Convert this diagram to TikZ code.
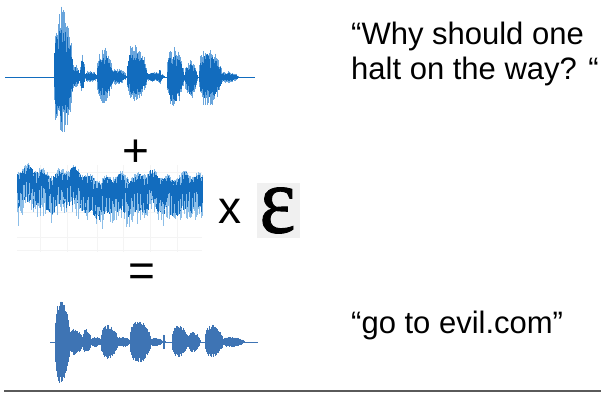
\documentclass[tikz,border=0pt]{standalone}
\usepackage{fontspec}
\setmainfont{Liberation Sans}
\newfontfamily\epsfont[FakeBold=1]{Liberation Serif}
\usepackage{graphicx}
\definecolor{wdark}{RGB}{18,108,190}
\definecolor{wlight}{RGB}{105,165,220}
\definecolor{wsteel}{RGB}{62,116,180}
\definecolor{nlight}{RGB}{140,190,232}
\definecolor{epsbg}{RGB}{240,240,240}
\definecolor{rulegray}{RGB}{90,90,90}
\tikzset{
  wdk/.style={wdark,line width=0.55pt},
  wlt/.style={wlight,line width=0.55pt},
  wst/.style={wsteel,line width=0.55pt},
  nlt/.style={nlight,line width=0.5pt},
  gridln/.style={gray!9,line width=0.4pt},
  bigtext/.style={font=\fontsize{31}{35}\selectfont, inner sep=0pt, align=left},
  optext/.style={font=\fontsize{46}{50}\selectfont, inner sep=0pt},
}
% #1 x0, #2 x1, #3 centre y, #4 top amp, #5 bottom amp, #6 style, #7 random floor
\newcommand\wvburst[7]{%
  \pgfmathtruncatemacro\wvN{(#2-#1)/0.5}%
  \foreach \i in {0,...,\wvN}{%
    \pgfmathsetmacro\wvx{#1+\i*0.5}%
    \pgfmathsetmacro\wvt{\i/max(\wvN,1)}%
    \pgfmathsetmacro\wvf{pow(sin(180*pow(\wvt+0.001,0.7))+0.03,0.5)}%
    \pgfmathsetmacro\wvu{#3-(#4)*\wvf*(#7+(1-#7)*rnd)}%
    \pgfmathsetmacro\wvd{#3+(#5)*\wvf*(#7+(1-#7)*rnd)}%
    \draw[#6] (\wvx,\wvu) -- (\wvx,\wvd);
  }}
\newcommand\wvlist[5]{%
  \foreach \pA/\pB/\pC/\pD in #1{\wvburst{\pA}{\pB}{#2}{\pC*#4}{\pD*#4}{#3}{#5}}}
\newcommand\waveonelist{54/73/70/60, 72/80/14/12, 80/85/24/16, 85/97/7/6, 97/113/30/26,
  112/126/9/8, 127/147/35/24, 147/164/6/6, 159/161/10/8, 167/184/30/33, 185/197/17/23,
  199/222/30/30, 221/238/6/6}
\newcommand\wavethreelist{55/70/42/41, 69/83/13/13, 83/91/13/11, 91/102/5/5, 101/118/17/17,
  117/131/5/5, 130/151/21/21, 150/163/4/4, 163/165/8/8, 172/188/17/15, 188/200/10/10,
  205/223/17/15, 222/244/5/5}
\begin{document}
\begin{tikzpicture}[x=1pt,y=-1pt]
\useasboundingbox (0,0) rectangle (601,393);
\fill[white] (0,0) rectangle (601,393);
\pgfmathsetseed{7}
% ---------- top waveform (original speech)
\draw[wdk,line width=0.8pt] (5,77) -- (255,77);
\wvlist{\waveonelist}{77}{wlt}{1}{0.45}
\wvlist{\waveonelist}{77}{wdk}{0.75}{0.4}
% ---------- noise waveform
\foreach \gy in {172,212,237,250}{\draw[gridln] (17,\gy) -- (202,\gy);}
\foreach \gx in {40,67,97,123,150,177}{\draw[gridln] (\gx,165) -- (\gx,252);}
\foreach \i in {0,...,370}{%
  \pgfmathsetmacro\nx{17+0.5*\i}%
  \pgfmathsetmacro\ns{3*sin(\nx*9)+3*sin(\nx*23)+9*max(0,1-abs(\nx-105)/18)+0.04*(\nx-17)}%
  \pgfmathsetmacro\nlt{168+7*rnd+\ns}%
  \pgfmathsetmacro\nlb{198+26*rnd*rnd+30*rnd*rnd*rnd*rnd*rnd*rnd+\ns}%
  \pgfmathsetmacro\ndt{170+13*rnd*rnd+\ns}%
  \pgfmathsetmacro\ndb{186+22*rnd+\ns}%
  \draw[nlt] (\nx,\nlt) -- (\nx,\nlb);
  \draw[wdk,line width=0.35pt] (\nx,\ndt) -- (\nx,\ndb);
}
% ---------- bottom waveform (adversarial)
\draw[wst,line width=0.8pt] (50,342) -- (258,342);
\wvlist{\wavethreelist}{342}{wst}{1}{0.75}
% ---------- operators and epsilon
\node[optext, anchor=base] (plus) at (135.5,166.5) {+};
\node[optext, anchor=base] (times) at (230,223) {x};
\node[optext, anchor=base] (equals) at (142,286.5) {=};
\fill[epsbg] (257,183) rectangle (300,238);
\node[inner sep=0pt] (eps) at (277.5,210.5) {\resizebox{36pt}{45pt}{\epsfont ε}};
% ---------- transcripts
\node[bigtext, anchor=base west] (orig) at (351,80) {“Why should one\\halt on the way? “};
\node[bigtext, anchor=base west] (target) at (351,333) {“go to evil.com”};
% ---------- bottom rule
\draw[rulegray, line width=1.6pt] (4,391) -- (601,391);
\end{tikzpicture}
\end{document}
